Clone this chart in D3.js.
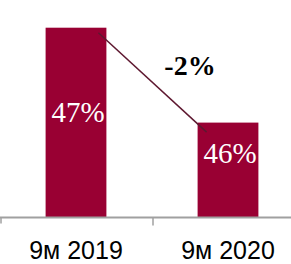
<!DOCTYPE html>
<html><head><meta charset="utf-8">
<script src="https://cdn.jsdelivr.net/npm/d3@7"></script>
</head><body style="margin:0;background:#fff">
<svg id="c" width="291" height="264"></svg>
<script>
const categories = ["9м 2019", "9м 2020"];
const values = [47, 46];
const valueLabels = ["47%", "46%"];
const changeLabel = "-2%";

const SERIF = `"Liberation Serif", "Times New Roman", Tinos`;
const SANS = `"Liberation Sans", Arial`;

const svg = d3.select("#c");
const baseY = 217.5;
const x = d3.scaleBand().domain(categories).range([0, 304]).paddingInner(0.6).paddingOuter(0.3);
const y = d3.scaleLinear().domain([45, 47]).range([baseY, 27.7]);

svg.selectAll("rect.bar").data(values).join("rect")
  .attr("class", "bar")
  .attr("x", (d, i) => x(categories[i]))
  .attr("width", x.bandwidth())
  .attr("y", d => y(d))
  .attr("height", d => baseY - y(d))
  .attr("fill", "#990033");

const p1 = [x(categories[0]) + x.bandwidth() - 8, y(values[0]) + 5];
const p2 = [x(categories[1]) + 9, y(values[1]) + 9.5];
svg.append("line")
  .attr("x1", p1[0]).attr("y1", p1[1]).attr("x2", p2[0]).attr("y2", p2[1])
  .attr("stroke", "#5e1830").attr("stroke-width", 1.5);

svg.selectAll("text.val").data(values).join("text")
  .attr("class", "val")
  .attr("x", (d, i) => x(categories[i]) + x.bandwidth() / 2 + 2)
  .attr("y", d => y(d) + (d === 47 ? 94 : 40))
  .attr("text-anchor", "middle")
  .attr("fill", "#fff")
  .style("font-family", SERIF, "important")
  .style("font-size", "29px", "important")
  .text((d, i) => valueLabels[i]);

svg.append("text")
  .attr("x", 190).attr("y", 75)
  .attr("text-anchor", "middle")
  .attr("fill", "#000")
  .style("font-family", SERIF, "important")
  .style("font-size", "28px", "important")
  .style("font-weight", "bold", "important")
  .text(changeLabel);

const axisG = svg.append("g").attr("transform", `translate(0,${baseY})`);
axisG.append("line").attr("x1", 0).attr("x2", 291).attr("y1", 0).attr("y2", 0)
  .attr("stroke", "#a0a0a0").attr("stroke-width", 2);
const boundaries = [0, x.step()];
axisG.selectAll("line.tk").data(boundaries).join("line")
  .attr("class", "tk")
  .attr("x1", d => d + 1).attr("x2", d => d + 1)
  .attr("y1", 0).attr("y2", (d, i) => i === 0 ? 6 : 8)
  .attr("stroke", "#a0a0a0").attr("stroke-width", 1.5);

svg.selectAll("text.cat").data(categories).join("text")
  .attr("class", "cat")
  .attr("x", d => x(d) + x.bandwidth() / 2)
  .attr("y", 259)
  .attr("text-anchor", "middle")
  .attr("fill", "#000")
  .style("font-family", SANS)
  .style("font-size", "25px")
  .text(d => d);
</script>
</body></html>
